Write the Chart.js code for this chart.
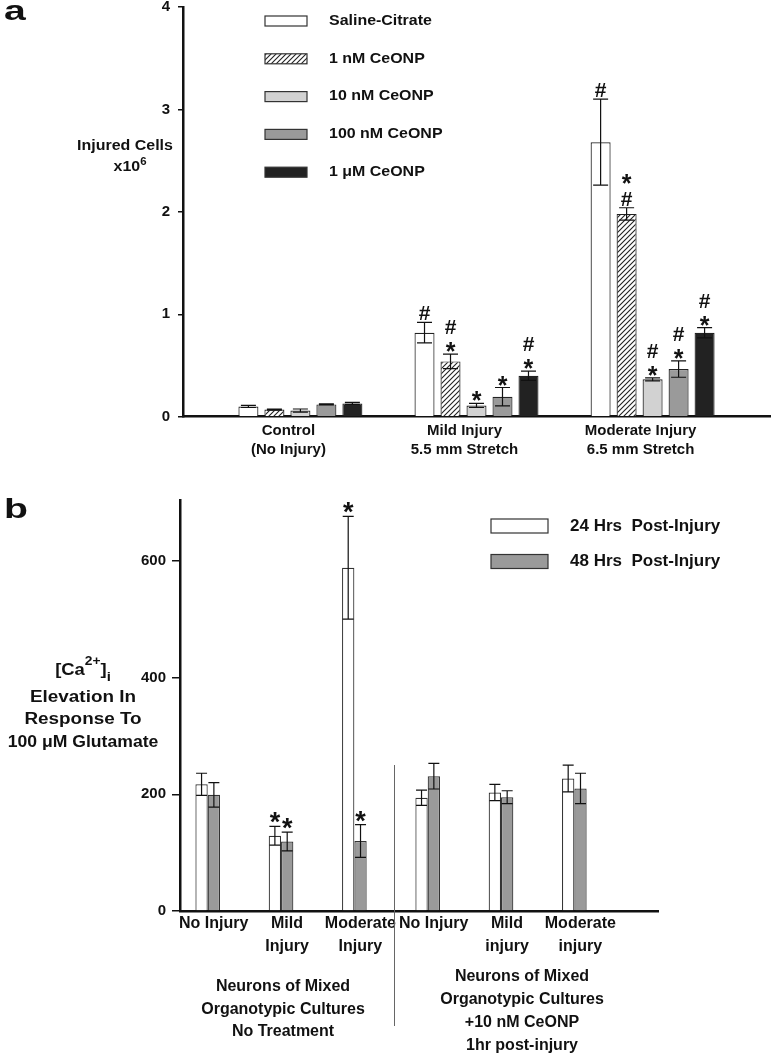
<!DOCTYPE html>
<html><head><meta charset="utf-8">
<script src="https://cdn.jsdelivr.net/npm/chart.js@4/dist/chart.umd.min.js"></script>
<style>
html,body{margin:0;padding:0;background:#fff;}
#cA{position:absolute;left:0;top:0;}
#cB{position:absolute;left:0;top:470px;}
</style></head><body>
<canvas id="cA" width="771" height="470"></canvas>
<canvas id="cB" width="771" height="587"></canvas>
<script>
// ---------- Panel a data ----------
const groupsA = [['Control','(No Injury)'],['Mild Injury','5.5 mm Stretch'],['Moderate Injury','6.5 mm Stretch']];
const seriesA = ['Saline-Citrate','1 nM CeONP','10 nM CeONP','100 nM CeONP','1 \u03BCM CeONP'];
const salineCitrate = [0.10, 0.82, 2.68];
const ceonp1nM      = [0.07, 0.54, 1.98];
const ceonp10nM     = [0.06, 0.11, 0.365];
const ceonp100nM    = [0.12, 0.195, 0.465];
const ceonp1uM      = [0.13, 0.40, 0.82];
const errSaline     = [0.01, 0.10, 0.42];
const err1nM        = [0.005, 0.07, 0.06];
const err10nM       = [0.015, 0.02, 0.015];
const err100nM      = [0.005, 0.09, 0.08];
const err1uM        = [0.01, 0.045, 0.05];
const marksSaline   = ['', '#', '#'];
const marks1nM      = ['', '#*', '*#'];
const marks10nM     = ['', '*', '#*'];
const marks100nM    = ['', '*', '#*'];
const marks1uM      = ['', '#*', '#*'];
const ticksA = [0, 1, 2, 3, 4];

// ---------- Panel b data ----------
const groupsB = [['No Injury'],['Mild','Injury'],['Moderate','Injury'],['No Injury'],['Mild','injury'],['Moderate','injury']];
const seriesB = ['24 Hrs  Post-Injury', '48 Hrs  Post-Injury'];
const hrs24  = [217, 129, 588, 194, 203, 227];
const hrs48  = [199, 119, 120, 231, 195, 210];
const err24  = [19, 16, 88, 13, 14, 23];
const err48  = [21, 16, 28, 22, 11, 26];
const marks24 = ['', '*', '*', '', '', ''];
const marks48 = ['', '*', '*', '', '', ''];
const ticksB = [0, 200, 400, 600];
const groupTitlesB = [['Neurons of Mixed','Organotypic Cultures','No Treatment'],
                      ['Neurons of Mixed','Organotypic Cultures','+10 nM CeONP','1hr post-injury']];

const FAM = '"Liberation Sans", Arial, Helvetica, sans-serif';
const INK = '#111';

function hatchPattern() {
  const c = document.createElement('canvas'); c.width = 5; c.height = 5;
  const g = c.getContext('2d');
  g.fillStyle = '#fff'; g.fillRect(0, 0, 5, 5);
  g.strokeStyle = '#222'; g.lineWidth = 1.1;
  g.beginPath();
  g.moveTo(0, 5); g.lineTo(5, 0);
  g.moveTo(-1, 1); g.lineTo(1, -1);
  g.moveTo(4, 6); g.lineTo(6, 4);
  g.stroke();
  return g.createPattern(c, 'repeat');
}

function txt(ctx, s, x, y, size, o = {}) {
  ctx.save();
  ctx.font = `bold ${size}px ${FAM}`;
  ctx.fillStyle = o.color || INK;
  ctx.textBaseline = o.baseline || 'middle';
  ctx.textAlign = 'left';
  const sx = o.sx || 1;
  const w = ctx.measureText(s).width * sx;
  const align = o.align || 'center';
  const left = align === 'center' ? x - w / 2 : (align === 'right' ? x - w : x);
  ctx.translate(left, y); ctx.scale(sx, 1);
  ctx.fillText(s, 0, 0);
  ctx.restore();
  return w;
}
function rich(ctx, segs, cx, baseY, sx) {
  ctx.save();
  let total = 0;
  segs.forEach(s => { ctx.font = `bold ${s.size}px ${FAM}`; s.w = ctx.measureText(s.t).width * sx; total += s.w; });
  let x = cx - total / 2;
  segs.forEach(s => { txt(ctx, s.t, x, baseY + (s.dy || 0), s.size, {align: 'left', baseline: 'alphabetic', sx}); x += s.w; });
  ctx.restore();
}

const errorBarPlugin = {
  id: 'errbars',
  afterDatasetsDraw(chart, args, opts) {
    const ctx = chart.ctx, ys = chart.scales.y;
    chart.data.datasets.forEach((ds, i) => {
      const meta = chart.getDatasetMeta(i);
      meta.data.forEach((bar, j) => {
        const v = ds.data[j].y, e = opts.errors[i][j];
        const x = bar.x;
        const yt = ys.getPixelForValue(v + e), yb = ys.getPixelForValue(v - e);
        ctx.save();
        ctx.strokeStyle = INK; ctx.lineWidth = opts.lineWidth;
        ctx.beginPath();
        ctx.moveTo(x, yt); ctx.lineTo(x, yb);
        ctx.moveTo(x - opts.cap, yt); ctx.lineTo(x + opts.cap, yt);
        ctx.moveTo(x - opts.cap, yb); ctx.lineTo(x + opts.cap, yb);
        ctx.stroke();
        const m = opts.marks[i][j] || '';
        ctx.fillStyle = INK; ctx.textAlign = 'center'; ctx.textBaseline = 'alphabetic';
        let bottom = yt - opts.markGap;
        for (let k = m.length - 1; k >= 0; k--) {
          const ch = m[k];
          ctx.font = `bold ${ch === '*' ? opts.starSize : opts.markSize}px ${FAM}`;
          const mt = ctx.measureText(ch);
          const asc = mt.actualBoundingBoxAscent, desc = mt.actualBoundingBoxDescent;
          ctx.fillText(ch, x, bottom - desc);
          bottom = bottom - (asc + desc) - opts.markSpace;
        }
        ctx.restore();
      });
    });
  }
};

// ---------- Panel a ----------
const valuesA = [salineCitrate, ceonp1nM, ceonp10nM, ceonp100nM, ceonp1uM];
const fillsA = ['#ffffff', hatchPattern(), '#d2d2d2', '#9a9a9a', '#222222'];
const overlayA = {
  id: 'overlayA',
  afterDraw(chart) {
    const ctx = chart.ctx;
    txt(ctx, 'a', 4, 20, 27, {align: 'left', baseline: 'alphabetic', sx: 1.45});
    txt(ctx, 'Injured Cells', 125, 146, 14, {sx: 1.14});
    rich(ctx, [{t: 'x10', size: 14}, {t: '6', size: 10, dy: -6}], 130, 171, 1.14);
    chart.data.datasets.forEach((ds, i) => {
      const cy = 21 + i * 37.8;
      ctx.save();
      ctx.fillStyle = ds.backgroundColor; ctx.fillRect(265, cy - 5, 42, 10);
      ctx.strokeStyle = '#333'; ctx.lineWidth = 1.2; ctx.strokeRect(265, cy - 5, 42, 10);
      ctx.restore();
      txt(ctx, ds.label, 329, cy, 14, {align: 'left', sx: 1.14});
    });
  }
};
new Chart(document.getElementById('cA'), {
  type: 'bar',
  data: {
    datasets: seriesA.map((name, i) => ({
      label: name,
      data: valuesA[i].map((v, j) => ({x: j, y: v})),
      backgroundColor: fillsA[i], borderColor: '#222', borderWidth: 1.2,
      categoryPercentage: 0.738, barPercentage: 0.77
    }))
  },
  options: {
    responsive: false, animation: false, devicePixelRatio: 1,
    layout: {padding: {top: 7, right: 1, left: 0, bottom: 0}},
    scales: {
      x: {
        type: 'linear', min: -2 / 3, max: 8 / 3, offset: false,
        afterBuildTicks: s => { s.ticks = groupsA.map((g, i) => ({value: i})); },
        afterFit: s => { s.height = 53.3; s.paddingLeft = 0; s.paddingRight = 0; },
        grid: {display: false, drawTicks: false},
        border: {display: true, color: INK, width: 2.5},
        ticks: {callback: v => groupsA[Math.round(v)], color: INK, padding: 5, labelOffset: -12,
                maxRotation: 0, autoSkip: false, font: {family: FAM, size: 15, weight: 'bold', lineHeight: '19px'}}
      },
      y: {
        min: 0, max: 4,
        afterBuildTicks: s => { s.ticks = ticksA.map(v => ({value: v})); },
        afterFit: s => { s.width = 183; s.paddingTop = 0; s.paddingBottom = 0; },
        grid: {display: true, drawOnChartArea: false, drawTicks: true, tickLength: 5, color: INK, lineWidth: 1.5},
        border: {color: INK, width: 2.5},
        ticks: {color: INK, padding: 8, font: {family: FAM, size: 15, weight: 'bold'}}
      }
    },
    plugins: {
      legend: {display: false}, tooltip: {enabled: false},
      errbars: {errors: [errSaline, err1nM, err10nM, err100nM, err1uM],
                marks: [marksSaline, marks1nM, marks10nM, marks100nM, marks1uM],
                cap: 7.5, lineWidth: 1.2, markSize: 21, starSize: 25, markGap: 2, markSpace: 8}
    }
  },
  plugins: [errorBarPlugin, overlayA]
});

// ---------- Panel b ----------
const valuesB = [hrs24, hrs48];
const fillsB = ['#ffffff', '#9a9a9a'];
const DIVIDER_X = 2.54;
const overlayB = {
  id: 'overlayB',
  afterDraw(chart) {
    const ctx = chart.ctx;
    txt(ctx, 'b', 4, 48, 27, {align: 'left', baseline: 'alphabetic', sx: 1.45});
    rich(ctx, [{t: '[Ca', size: 16}, {t: '2+', size: 12, dy: -10}, {t: ']', size: 16}, {t: 'i', size: 13, dy: 6}], 83, 205, 1.15);
    txt(ctx, 'Elevation In', 83, 228, 16, {sx: 1.18});
    txt(ctx, 'Response To', 83, 250, 16, {sx: 1.18});
    txt(ctx, '100 \u03BCM Glutamate', 83, 273, 16, {sx: 1.1});
    chart.data.datasets.forEach((ds, i) => {
      const cy = 56 + i * 35.5;
      ctx.save();
      ctx.fillStyle = ds.backgroundColor; ctx.fillRect(491, cy - 7, 57, 14);
      ctx.strokeStyle = '#333'; ctx.lineWidth = 1.2; ctx.strokeRect(491, cy - 7, 57, 14);
      ctx.restore();
      txt(ctx, ds.label, 570, cy, 17, {align: 'left'});
    });
    const xs = chart.scales.x;
    const dx = Math.round(xs.getPixelForValue(DIVIDER_X)) + 0.5;
    ctx.save(); ctx.strokeStyle = '#666'; ctx.lineWidth = 1;
    ctx.beginPath(); ctx.moveTo(dx, 295); ctx.lineTo(dx, 556); ctx.stroke(); ctx.restore();
    groupTitlesB[0].forEach((s, k) => txt(ctx, s, 283, 517 + k * 22.5, 16));
    groupTitlesB[1].forEach((s, k) => txt(ctx, s, 522, 507 + k * 22.7, 16));
  }
};
new Chart(document.getElementById('cB'), {
  type: 'bar',
  data: {
    datasets: seriesB.map((name, i) => ({
      label: name,
      data: valuesB[i].map((v, j) => ({x: j, y: v})),
      backgroundColor: fillsB[i], borderColor: '#333', borderWidth: 1.2,
      categoryPercentage: 0.336, barPercentage: 1.0
    }))
  },
  options: {
    responsive: false, animation: false, devicePixelRatio: 1,
    layout: {padding: {top: 30.7, right: 113, left: 0, bottom: 0}},
    scales: {
      x: {
        type: 'linear', min: -0.378, max: 6.141, offset: false,
        afterBuildTicks: s => { s.ticks = groupsB.map((g, i) => ({value: i})); },
        afterFit: s => { s.height = 146; s.paddingLeft = 0; s.paddingRight = 0; },
        grid: {display: false, drawTicks: false},
        border: {display: true, color: INK, width: 2.5},
        ticks: {callback: v => groupsB[Math.round(v)], color: INK, padding: 1, labelOffset: 6,
                maxRotation: 0, autoSkip: false, font: {family: FAM, size: 16, weight: 'bold', lineHeight: '23px'}}
      },
      y: {
        min: 0, max: 703,
        afterBuildTicks: s => { s.ticks = ticksB.map(v => ({value: v})); },
        afterFit: s => { s.width = 180; s.paddingTop = 0; s.paddingBottom = 0; },
        grid: {display: true, drawOnChartArea: false, drawTicks: true, tickLength: 8, color: INK, lineWidth: 1.5},
        border: {color: INK, width: 2.5},
        ticks: {color: INK, padding: 6, font: {family: FAM, size: 15, weight: 'bold'}}
      }
    },
    plugins: {
      legend: {display: false}, tooltip: {enabled: false},
      errbars: {errors: [err24, err48], marks: [marks24, marks48],
                cap: 5.5, lineWidth: 1.2, markSize: 27, starSize: 27, markGap: 3, markSpace: 6}
    }
  },
  plugins: [errorBarPlugin, overlayB]
});
</script>
</body></html>
